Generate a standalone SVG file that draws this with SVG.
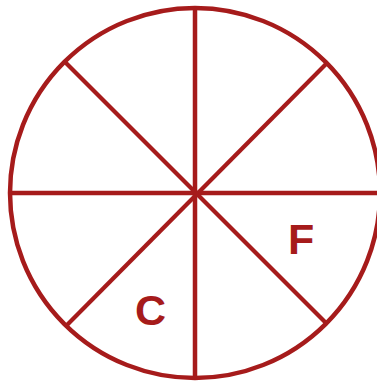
<svg xmlns="http://www.w3.org/2000/svg" width="377" height="382" viewBox="0 0 377 382">
<style>
.s{stroke:#a61b1b;fill:none;stroke-width:4.5}
.d{stroke:#a61b1b;fill:none;stroke-width:4.2}
.t{fill:#a61b1b;font-family:"Liberation Sans",Arial,sans-serif;font-weight:bold;font-size:43px}
</style>
<rect width="377" height="382" fill="#fff"/>
<g id="connectors">
<line class="s" x1="195" y1="8" x2="195" y2="378"/>
<line class="s" x1="10" y1="193" x2="380" y2="193"/>
<line class="d" x1="65" y1="62" x2="326" y2="323"/>
<line class="d" x1="327" y1="63" x2="67" y2="325"/>
</g>
<g id="circle">
<circle class="s" cx="195" cy="193" r="185"/>
</g>
<g id="label-C"><text class="t" x="135" y="324.5">C</text></g>
<g id="label-F"><text class="t" x="288" y="253.5">F</text></g>
</svg>
